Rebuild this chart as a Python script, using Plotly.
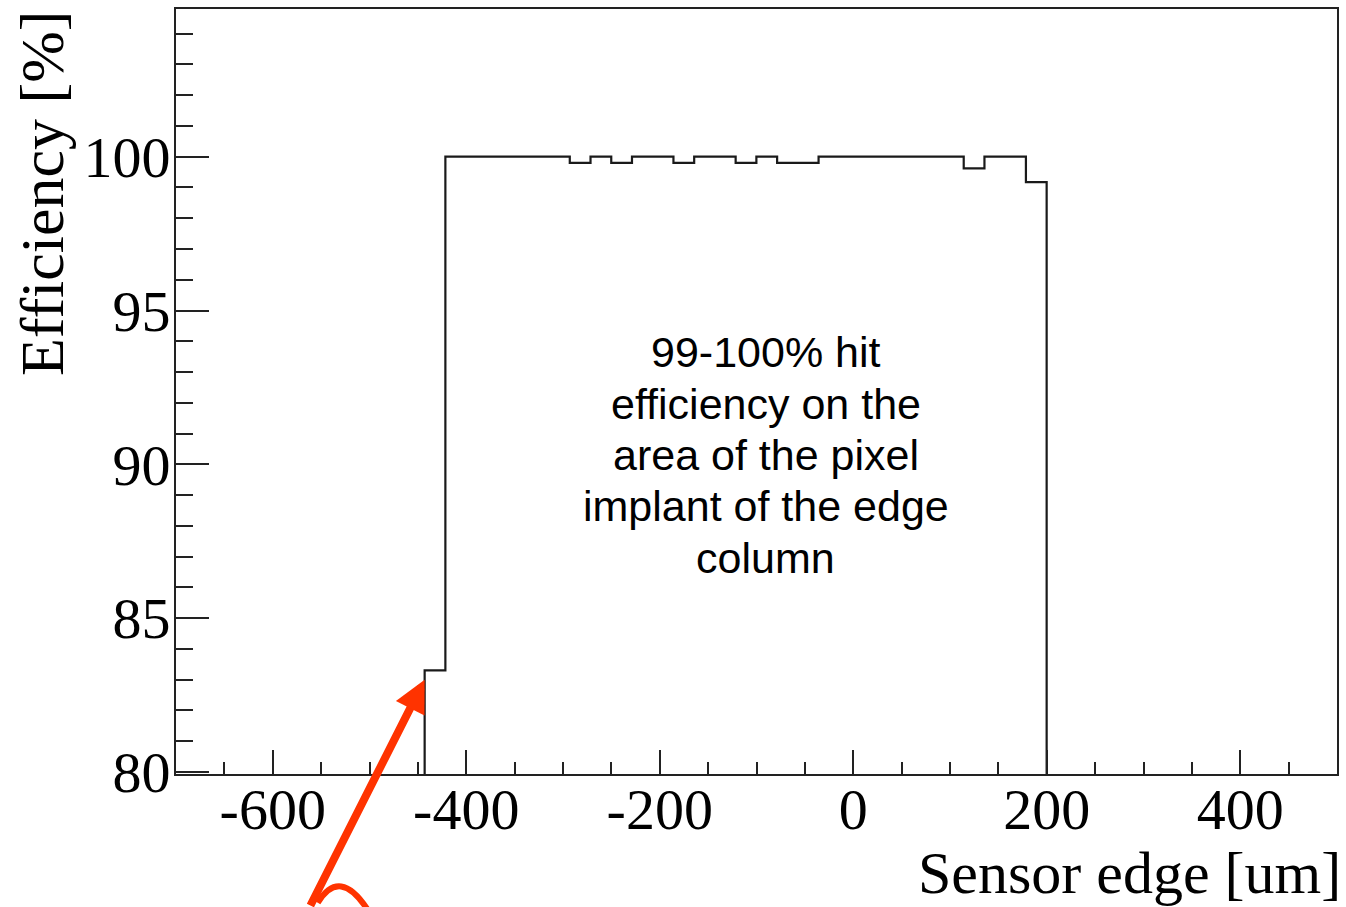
import plotly.graph_objects as go

# ---- data ----
bin_start = -443.0
bin_width = 21.43
n_bins = 30
bin_edges = [bin_start + k * bin_width for k in range(n_bins + 1)]
efficiency = [83.3, 100.0, 100.0, 100.0, 100.0, 100.0, 100.0, 99.8, 100.0, 99.8,
              100.0, 100.0, 99.8, 100.0, 100.0, 99.8, 100.0, 99.8, 99.8, 100.0,
              100.0, 100.0, 100.0, 100.0, 100.0, 100.0, 99.62, 100.0, 100.0, 99.17]
x_ticks = [-600, -400, -200, 0, 200, 400]
x_ticklabels = ["-600", "-400", "-200", "0", "200", "400"]
y_ticks = [80, 85, 90, 95, 100]
y_ticklabels = ["80", "85", "90", "95", "100"]
x_title = "Sensor edge [um]"
y_title = "Efficiency [%]"
note_lines = ["99-100% hit", "efficiency on the", "area of the pixel", "implant of the edge", "column"]

# step outline of the histogram (drops to zero outside the filled range)
xs = [bin_edges[0]] + bin_edges
ys = [0.0] + efficiency + [0.0]

fig = go.Figure()
fig.add_trace(go.Scatter(x=xs, y=ys, mode="lines", line=dict(color="#1a1a1a", width=2.2, shape="hv"),
                         hoverinfo="skip", showlegend=False))

serif = "Liberation Serif, Times New Roman, serif"
fig.update_layout(
    width=1346, height=907,
    margin=dict(l=176, r=7, t=9, b=133),
    paper_bgcolor="white", plot_bgcolor="white",
    showlegend=False,
    xaxis=dict(range=[-700, 500], tickvals=x_ticks, ticktext=x_ticklabels,
               ticks="inside", ticklen=24, tickwidth=2,
               tickcolor="#222", showline=True, linecolor="#222", linewidth=2, mirror=True,
               showgrid=False, zeroline=False,
               tickfont=dict(family=serif, size=58, color="black"), ticklabelstandoff=-17,
               minor=dict(dtick=50, tick0=0, ticks="inside", ticklen=12, tickwidth=2, tickcolor="#222",
                          showgrid=False)),
    yaxis=dict(range=[79.935, 104.8], tickvals=y_ticks, ticktext=y_ticklabels,
               ticks="inside", ticklen=33, tickwidth=2, tickcolor="#222",
               showline=True, linecolor="#222", linewidth=2, mirror=True,
               showgrid=False, zeroline=False,
               tickfont=dict(family=serif, size=58, color="black"), ticklabelstandoff=-8,
               minor=dict(dtick=1, tick0=80, ticks="inside", ticklen=17, tickwidth=2, tickcolor="#222",
                          showgrid=False)),
)

fig.add_annotation(text=y_title, xref="paper", yref="paper", x=0, y=1, xanchor="center", yanchor="top",
                   xshift=-134, yshift=1, textangle=-90, showarrow=False,
                   font=dict(family=serif, size=62, color="black"))
fig.add_annotation(text=x_title, xref="paper", yref="paper", x=1, y=0, xanchor="right", yanchor="middle",
                   xshift=6, yshift=-99, showarrow=False,
                   font=dict(family=serif, size=60, color="black"))

note_center_y = 90.3
note_spacing = 1.67
for i, line in enumerate(note_lines):
    fig.add_annotation(text=line, xref="x", yref="y", x=-90.2,
                       y=note_center_y + (len(note_lines) // 2 - i) * note_spacing, showarrow=False,
                       font=dict(family="Liberation Sans, Arial, sans-serif", size=43, color="black"))

# red arrow pointing at the edge bin
fig.add_annotation(x=bin_edges[0], y=83.0, xref="x", yref="y", text="", showarrow=True,
                   ax=-115, ay=230, arrowhead=2, arrowsize=0.8, arrowwidth=8, arrowcolor="#ff3300")
# partial red curve at the bottom
fig.add_shape(type="path", xref="paper", yref="paper",
              path="M 0.1221,-0.1683 Q 0.141,-0.121 0.1651,-0.1775",
              line=dict(color="#ff3300", width=6))

fig.write_html("out.html")
